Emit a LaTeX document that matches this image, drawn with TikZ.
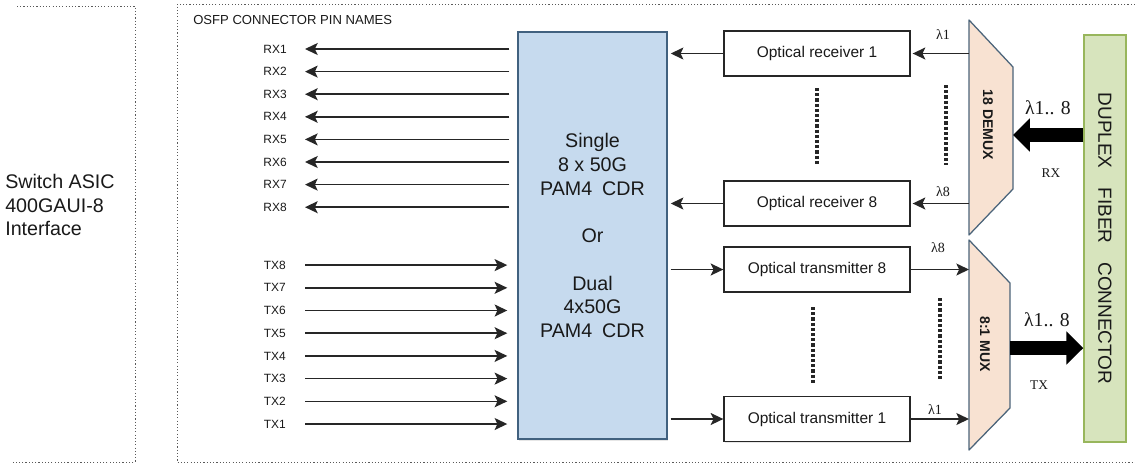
\documentclass[tikz,border=0pt]{standalone}
\usepackage{fontspec}
\setmainfont{Liberation Sans}
\newfontfamily\policeserif{Liberation Serif}
\usetikzlibrary{arrows.meta, shadows}
\definecolor{bleucdr}{HTML}{C6DAEE}
\definecolor{bordcdr}{HTML}{41617F}
\definecolor{peche}{HTML}{F8E2D2}
\definecolor{bordmux}{HTML}{4B647A}
\definecolor{vertfibre}{HTML}{D7E4BD}
\definecolor{bordfibre}{HTML}{98B65C}

\begin{document}
\begin{tikzpicture}[x=0.025cm, y=-0.025cm, text=black!90]
% styles des blocs et des liaisons
\tikzstyle{cadre}=[draw=black!65, line width=0.7pt, dash pattern=on 0.8pt off 1.5pt]
\tikzstyle{broche}=[inner sep=0pt, anchor=east, font=\fontsize{8.5}{10}\selectfont]
\tikzstyle{optique}=[rectangle, draw=black!85, fill=white, line width=0.9pt, minimum width=4.65cm, minimum height=1.125cm, font=\fontsize{11}{13}\selectfont, drop shadow={opacity=0.18, shadow xshift=0.8pt, shadow yshift=-0.9pt}]
\tikzstyle{fleche}=[-{Stealth[length=9pt, width=8.5pt, inset=2pt]}, line width=1.1pt, color=black!85]
\tikzstyle{grossefleche}=[-{Triangle[length=12pt, width=23pt]}, line width=10pt, color=black]
\tikzstyle{pointilles}=[line width=2.3pt, dash pattern=on 2.3pt off 1.4pt, color=black!85]
\tikzstyle{onde}=[inner sep=0pt, font=\policeserif\fontsize{10}{12}\selectfont]
\tikzstyle{muxtexte}=[inner sep=0pt, rotate=-90, font=\bfseries\fontsize{10}{12}\selectfont]
\tikzstyle{muxforme}=[fill=peche, draw=bordmux, line width=0.9pt, line join=round]

\useasboundingbox (0,0) rectangle (1135,463);

% cadres pointillés
\draw[cadre] (17,6) -- (135,6) -- (135,462) -- (13,462);
\draw[cadre] (1135,4) -- (177,4) -- (177,462) -- (1135,462);

% texte côté ASIC
\node[align=left, anchor=west, inner sep=0pt, font=\fontsize{14}{16.5}\selectfont] (asic) at (5,205) {Switch ASIC\\400GAUI-8\\Interface};
\node[anchor=west, inner sep=0pt, font=\fontsize{9.3}{11}\selectfont] (titre) at (193,20) {OSFP CONNECTOR PIN NAMES};

% bloc CDR
\node[rectangle, draw=bordcdr, fill=bleucdr, line width=1pt, minimum width=3.725cm, minimum height=10.175cm, align=center, font=\fontsize{14}{16.9}\selectfont, drop shadow={opacity=0.2, shadow xshift=1pt, shadow yshift=-1.2pt}] (cdr) at (592.5,235.5) {Single\\8 x 50G\\PAM4\hspace{0.5em}CDR\\~\\Or\\~\\Dual\\4x50G\\PAM4\hspace{0.5em}CDR};

% broches RX et TX
\foreach \i in {1,...,8} {
  \node[broche] (rx\i) at (287,{49+(\i-1)*22.6}) {RX\i};
  \draw[fleche, shorten <=0.2cm, shorten >=0.45cm] (cdr.west |- rx\i.east) -- (rx\i.east);
  \node[broche] (tx\i) at (286,{424-(\i-1)*22.7}) {TX\i};
  \draw[fleche, shorten <=0.48cm, shorten >=0.25cm] (tx\i.east) -- (cdr.west |- tx\i.east);
}

% blocs optiques
\node[optique] (rec1) at (817,53.5) {Optical receiver 1};
\node[optique] (rec8) at (817,203.5) {Optical receiver 8};
\node[optique] (tra8) at (817,269.5) {Optical transmitter 8};
\node[optique] (tra1) at (817,419) {Optical transmitter 1};

\draw[fleche, shorten >=0.075cm] (rec1.west) -- (cdr.east |- rec1.west);
\draw[fleche, shorten >=0.075cm] (rec8.west) -- (cdr.east |- rec8.west);
\draw[fleche, shorten <=0.075cm] (cdr.east |- tra8.west) -- (tra8.west);
\draw[fleche, shorten <=0.075cm] (cdr.east |- tra1.west) -- (tra1.west);

% démultiplexeur et multiplexeur
\coordinate (dmx-o) at (969,127);
\coordinate (dmx-e) at (1013,135);
\coordinate (mux-o) at (969,345);
\coordinate (mux-e) at (1010,348);
\draw[muxforme] (969,20) -- (1013,67) -- (1013,189) -- (969,235) -- cycle;
\draw[muxforme] (969,240) -- (1010,283) -- (1010,408) -- (969,450) -- cycle;
\node[muxtexte] (dmxtxt) at (988,125) {18 DEMUX};
\node[muxtexte] (muxtxt) at (985,344) {8:1 MUX};

\draw[fleche, shorten >=0.05cm] (dmx-o |- rec1.east) -- (rec1.east);
\draw[fleche, shorten >=0.05cm] (dmx-o |- rec8.east) -- (rec8.east);
\draw[fleche] (tra8.east) -- (mux-o |- tra8.east);
\draw[fleche] (tra1.east) -- (mux-o |- tra1.east);

\node[onde] (l1r) at (943,35) {λ1};
\node[onde] (l8r) at (943,192) {λ8};
\node[onde] (l8t) at (938,248) {λ8};
\node[onde] (l1t) at (935,410) {λ1};

% pointillés entre les voies
\draw[pointilles] (817,88) -- (817,165);
\draw[pointilles] (813,307) -- (813,385);
\draw[pointilles] (946,85) -- (946,165);
\draw[pointilles] (940,298) -- (940,380);

% connecteur fibre
\node[rectangle, draw=bordfibre, fill=vertfibre, line width=1pt, minimum width=1.05cm, minimum height=10.175cm] (fib) at (1105,238.5) {};
\node[rotate=-90, inner sep=0pt, font=\fontsize{13.5}{15}\selectfont] (fibtxt) at (fib.center) {DUPLEX\hspace{1em}FIBER\hspace{1em}CONNECTOR};

\draw[grossefleche] (fib.west |- dmx-e) -- (dmx-e);
\draw[grossefleche] (mux-e) -- (fib.west |- mux-e);

\node[inner sep=0pt, font=\policeserif\fontsize{14}{16}\selectfont] (lrx) at (1048,108) {λ1.. 8};
\node[inner sep=0pt, font=\policeserif\fontsize{14}{16}\selectfont] (ltx) at (1047,320) {λ1.. 8};
\node[inner sep=0pt, font=\policeserif\fontsize{9.5}{11}\selectfont] (rxtxt) at (1051,173) {RX};
\node[inner sep=0pt, font=\policeserif\fontsize{9.5}{11}\selectfont] (txtxt) at (1039,385) {TX};
\end{tikzpicture}
\end{document}
